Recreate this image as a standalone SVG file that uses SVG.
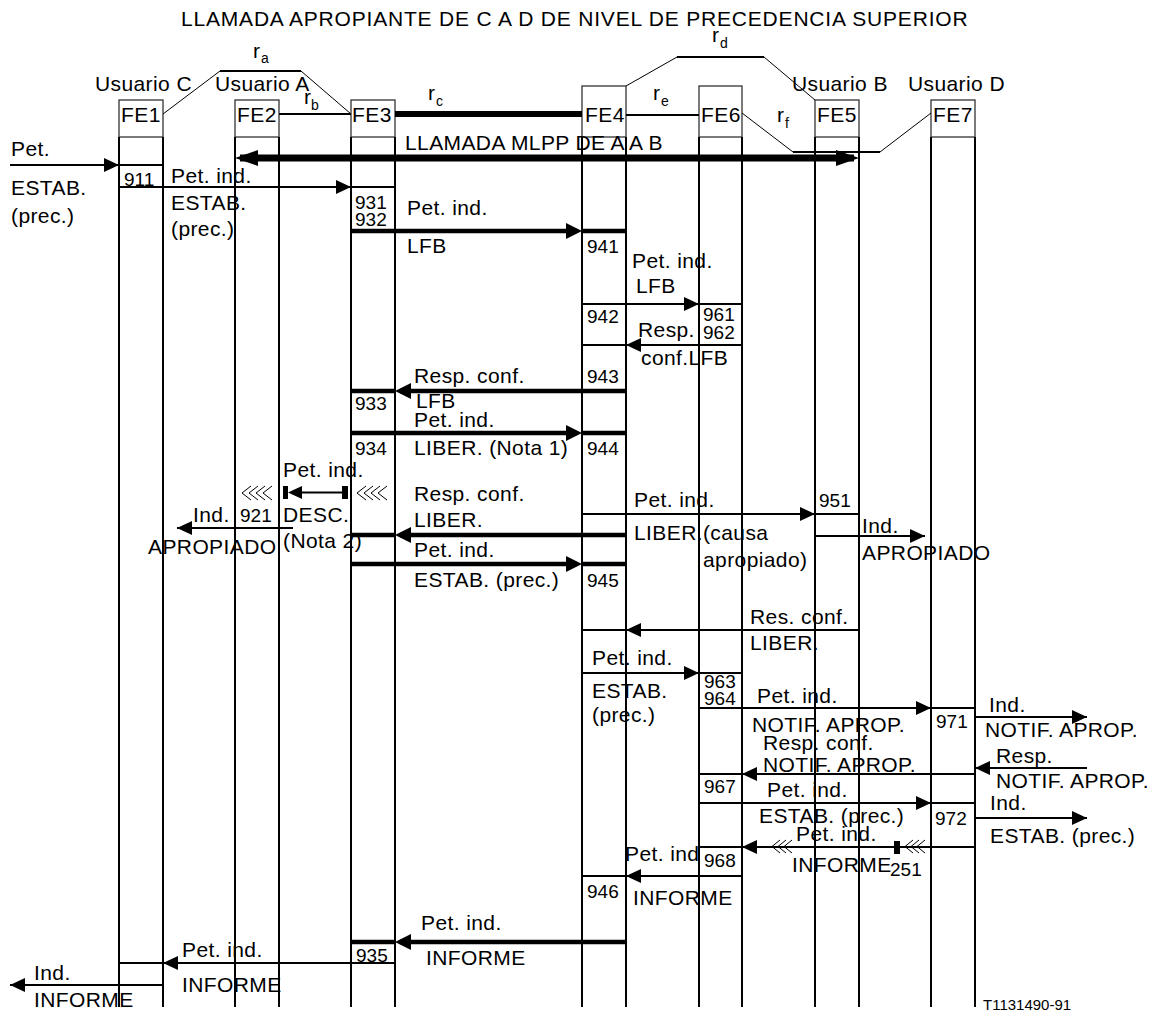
<svg xmlns="http://www.w3.org/2000/svg" width="1162" height="1013" viewBox="0 0 1162 1013">
<style>
text{font-family:"Liberation Sans",Arial,sans-serif;font-size:21px;letter-spacing:0.4px;fill:#000}
.n{font-size:19px;letter-spacing:0}
.s{font-size:14px;letter-spacing:0}
.sm{font-size:15px;letter-spacing:0}
.box{fill:none;stroke:#333;stroke-width:1.3}
.life{fill:none;stroke:#000;stroke-width:2}
.thin{fill:none;stroke:#000;stroke-width:2}
.thick{fill:none;stroke:#000;stroke-width:4.5}
.mlpp{fill:none;stroke:#000;stroke-width:7}
.rel1{fill:none;stroke:#000;stroke-width:1}
.rel2{fill:none;stroke:#000;stroke-width:2}
.rel6{fill:none;stroke:#000;stroke-width:6}
.chev{fill:none;stroke:#000;stroke-width:1}
</style>
<defs>
<marker id="a" viewBox="0 0 15 14" refX="15" refY="7" markerWidth="15" markerHeight="14" markerUnits="userSpaceOnUse" orient="auto"><path d="M0 0L15 7L0 14Z" fill="#000"/></marker>
<marker id="b" viewBox="0 0 16 16" refX="11" refY="8" markerWidth="16" markerHeight="16" markerUnits="userSpaceOnUse" orient="auto"><path d="M0 0L16 8L0 16Z" fill="#000"/></marker>
<marker id="m" viewBox="0 0 23 16" refX="18" refY="8" markerWidth="23" markerHeight="16" markerUnits="userSpaceOnUse" orient="auto-start-reverse"><path d="M0 0L23 8L0 16Z" fill="#000"/></marker>
</defs>
<rect width="1162" height="1013" fill="#fff"/>
<text x="181" y="26" textLength="787" lengthAdjust="spacing">LLAMADA APROPIANTE DE C A D DE NIVEL DE PRECEDENCIA SUPERIOR</text>

<g id="fe1">
<rect class="box" x="119" y="100" width="44" height="37"/>
<path class="life" d="M119 137V1007M163 137V1007"/>
<text x="121" y="122">FE1</text>
<text x="95" y="91">Usuario C</text>
<text class="n" x="124" y="186">911</text>
</g>
<g id="fe2">
<rect class="box" x="235" y="100" width="44" height="37"/>
<path class="life" d="M235 137V1007M279 137V1007"/>
<text x="237" y="122">FE2</text>
<text x="215" y="91">Usuario A</text>
<text class="n" x="240" y="522">921</text>
</g>
<g id="fe3">
<rect class="box" x="351" y="100" width="44" height="37"/>
<path class="life" d="M351 137V1007M395 137V1007"/>
<text x="352" y="122">FE3</text>
<text class="n" x="355" y="209">931</text>
<text class="n" x="355" y="226">932</text>
<text class="n" x="355" y="410">933</text>
<text class="n" x="355" y="455">934</text>
<text class="n" x="356" y="962">935</text>
</g>
<g id="fe4">
<rect class="box" x="582" y="86" width="44" height="51"/>
<path class="life" d="M582 137V1007M626 137V1007"/>
<text x="585" y="122">FE4</text>
<text class="n" x="587" y="253">941</text>
<text class="n" x="587" y="323">942</text>
<text class="n" x="587" y="383">943</text>
<text class="n" x="587" y="455">944</text>
<text class="n" x="587" y="587">945</text>
<text class="n" x="587" y="898">946</text>
</g>
<g id="fe6">
<rect class="box" x="699" y="86" width="43" height="51"/>
<path class="life" d="M699 137V1007M742 137V1007"/>
<text x="701" y="122">FE6</text>
<text class="n" x="703" y="321">961</text>
<text class="n" x="703" y="339">962</text>
<text class="n" x="704" y="688">963</text>
<text class="n" x="704" y="705">964</text>
<text class="n" x="704" y="793">967</text>
<text class="n" x="704" y="867">968</text>
</g>
<g id="fe5">
<rect class="box" x="815" y="100" width="44" height="37"/>
<path class="life" d="M815 137V1007M859 137V1007"/>
<text x="817" y="122">FE5</text>
<text x="792" y="91">Usuario B</text>
<text class="n" x="819" y="507">951</text>
</g>
<g id="fe7">
<rect class="box" x="931" y="100" width="44" height="37"/>
<path class="life" d="M931 137V1007M975 137V1007"/>
<text x="933" y="122">FE7</text>
<text x="908" y="91">Usuario D</text>
<text class="n" x="936" y="728">971</text>
<text class="n" x="935" y="825">972</text>
</g>

<g id="relations">
<path class="rel1" d="M163 114L220 71M301 71L351 114"/>
<path class="rel2" d="M220 71H301"/>
<path class="rel2" d="M279 114H351"/>
<path class="rel6" d="M395 114H582"/>
<path class="rel1" d="M626 86L677 57M764 57L815 100"/>
<path class="rel2" d="M677 57H764"/>
<path class="rel2" d="M626 115H699"/>
<path class="rel1" d="M742 113L793 152M880 152L931 113"/>
<path class="rel2" d="M793 152H880"/>
<text x="253" y="58">r</text><text class="s" x="261" y="63">a</text>
<text x="304" y="104">r</text><text class="s" x="311" y="110">b</text>
<text x="428" y="100">r</text><text class="s" x="436" y="106">c</text>
<text x="712" y="42">r</text><text class="s" x="720" y="48">d</text>
<text x="653" y="100">r</text><text class="s" x="661" y="106">e</text>
<text x="777" y="122">r</text><text class="s" x="785" y="128">f</text>
</g>

<g id="connectors">
<path class="mlpp" d="M240 158H854" marker-start="url(#m)" marker-end="url(#m)"/>
<path class="thin" d="M119 165H163M10 165H119" marker-end="url(#a)"/>
<path class="thin" d="M351 187H395M119 187H351" marker-end="url(#a)"/>
<path class="thick" d="M582 231H626M351 231H577" marker-end="url(#b)"/>
<path class="thin" d="M582 304H626M699 304H742M626 304H699" marker-end="url(#a)"/>
<path class="thin" d="M582 345H626M699 345H742M699 345H626" marker-end="url(#a)"/>
<path class="thick" d="M351 391H395M626 391H400" marker-end="url(#b)"/>
<path class="thick" d="M582 433H626M351 433H577" marker-end="url(#b)"/>
<rect x="283" y="486" width="5" height="13"/>
<path d="M288 492.5L302 486V499Z"/>
<path class="thin" d="M302 492.5H343"/>
<rect x="342" y="486" width="6" height="13"/>
<path class="chev" d="M251 486L242 493L251 500M258 486L249 493L258 500M265 486L256 493L265 500M272 486L263 493L272 500"/>
<path class="chev" d="M366 486L357 493L366 500M373 486L364 493L373 500M380 486L371 493L380 500M387 486L378 493L387 500"/>
<path class="thin" d="M293 528H177" marker-end="url(#a)"/>
<path class="thin" d="M815 514H858M582 514H815" marker-end="url(#a)"/>
<path class="thin" d="M815 536H925" marker-end="url(#a)"/>
<path class="thick" d="M351 535H395M626 535H400" marker-end="url(#b)"/>
<path class="thick" d="M582 564H626M351 564H577" marker-end="url(#b)"/>
<path class="thin" d="M582 630H626M859 630H626" marker-end="url(#a)"/>
<path class="thin" d="M699 673H742M582 673H699" marker-end="url(#a)"/>
<path class="thin" d="M931 708H975M699 708H931" marker-end="url(#a)"/>
<path class="thin" d="M975 717H1087" marker-end="url(#a)"/>
<path class="thin" d="M1087 768H975" marker-end="url(#a)"/>
<path class="thin" d="M699 774H742M975 774H742" marker-end="url(#a)"/>
<path class="thin" d="M931 803H975M699 803H931" marker-end="url(#a)"/>
<path class="thin" d="M975 818H1087" marker-end="url(#a)"/>
<path class="thin" d="M699 847H742M975 847H742" marker-end="url(#a)"/>
<path class="chev" d="M780 840L772 846.5L780 853M786 840L778 846.5L786 853M792 840L784 846.5L792 853"/>
<rect x="894" y="841" width="6" height="13"/>
<path class="chev" d="M913 840L905 846.5L913 853M919 840L911 846.5L919 853M925 840L917 846.5L925 853"/>
<path class="thin" d="M582 876H626M742 876H626" marker-end="url(#a)"/>
<path class="thick" d="M351 942H395M626 942H400" marker-end="url(#b)"/>
<path class="thin" d="M119 963H163M395 963H163" marker-end="url(#a)"/>
<path class="thin" d="M163 985H10" marker-end="url(#a)"/>
</g>

<g id="labels">
<text x="405" y="150">LLAMADA MLPP DE A A B</text>
<text x="11" y="156">Pet.</text>
<text x="11" y="195">ESTAB.</text>
<text x="11" y="223">(prec.)</text>
<text x="171" y="183">Pet. ind.</text>
<text x="171" y="210">ESTAB.</text>
<text x="171" y="236">(prec.)</text>
<text x="407" y="215">Pet. ind.</text>
<text x="407" y="253">LFB</text>
<text x="632" y="268">Pet. ind.</text>
<text x="636" y="293">LFB</text>
<text x="638" y="337">Resp.</text>
<text x="641" y="365">conf.LFB</text>
<text x="414" y="383">Resp. conf.</text>
<text x="416" y="408">LFB</text>
<text x="414" y="427">Pet. ind.</text>
<text x="414" y="455">LIBER. (Nota 1)</text>
<text x="283" y="477">Pet. ind.</text>
<text x="193" y="522">Ind.</text>
<text x="283" y="522">DESC.</text>
<text x="148" y="554">APROPIADO</text>
<text x="283" y="548">(Nota 2)</text>
<text x="414" y="501">Resp. conf.</text>
<text x="414" y="527">LIBER.</text>
<text x="414" y="557">Pet. ind.</text>
<text x="414" y="587">ESTAB. (prec.)</text>
<text x="634" y="507">Pet. ind.</text>
<text x="634" y="540">LIBER.(causa</text>
<text x="703" y="567">apropiado)</text>
<text x="862" y="533">Ind.</text>
<text x="862" y="560">APROPIADO</text>
<text x="750" y="624">Res. conf.</text>
<text x="750" y="650">LIBER.</text>
<text x="592" y="665">Pet. ind.</text>
<text x="592" y="698">ESTAB.</text>
<text x="592" y="722">(prec.)</text>
<text x="757" y="703">Pet. ind.</text>
<text x="752" y="732">NOTIF. APROP.</text>
<text x="989" y="712">Ind.</text>
<text x="985" y="737">NOTIF. APROP.</text>
<text x="763" y="750">Resp. conf.</text>
<text x="763" y="772">NOTIF. APROP.</text>
<text x="996" y="763">Resp.</text>
<text x="996" y="788">NOTIF. APROP.</text>
<text x="767" y="797">Pet. ind.</text>
<text x="759" y="823">ESTAB. (prec.)</text>
<text x="990" y="810">Ind.</text>
<text x="990" y="843">ESTAB. (prec.)</text>
<text x="796" y="841">Pet. ind.</text>
<text x="792" y="872">INFORME</text>
<text class="n" x="890" y="876">251</text>
<text x="625" y="861">Pet. ind</text>
<text x="633" y="905">INFORME</text>
<text x="421" y="930">Pet. ind.</text>
<text x="426" y="965">INFORME</text>
<text x="182" y="957">Pet. ind.</text>
<text x="182" y="992">INFORME</text>
<text x="34" y="980">Ind.</text>
<text x="34" y="1007">INFORME</text>
<text class="sm" x="983" y="1010">T1131490-91</text>
</g>
</svg>
